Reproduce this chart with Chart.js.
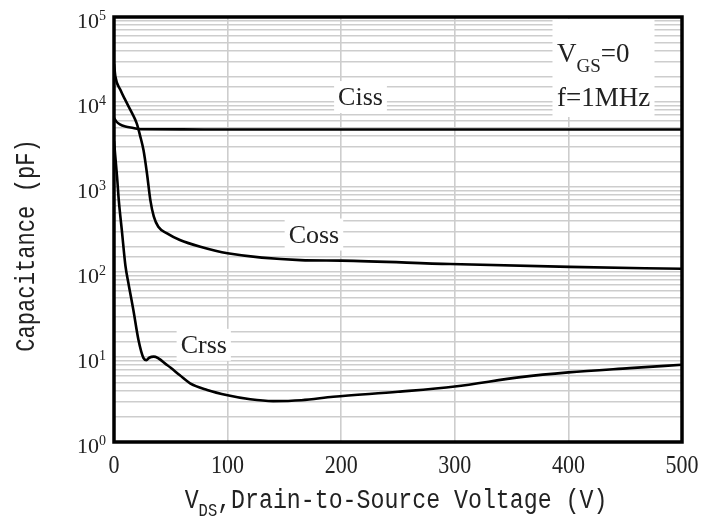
<!DOCTYPE html>
<html>
<head>
<meta charset="utf-8">
<script src="https://cdn.jsdelivr.net/npm/chart.js@4/dist/chart.umd.min.js"></script>
<style>
  body { margin: 0; background: #fff; }
  canvas { display: block; }
</style>
</head>
<body>
<canvas id="chart" width="719" height="520"></canvas>
<script>
// capacitance vs drain-source voltage

const cissV = [0, 2, 5.6, 10, 17, 23, 60, 100, 200, 300, 400, 500];
const cissC = [6500, 5900, 5400, 5150, 4950, 4780, 4760, 4750, 4750, 4750, 4750, 4750];

const cossV = [0, 1.2, 5.6, 10, 16, 20, 23, 26, 29, 32, 35, 39, 46.7, 58, 76, 100, 164, 200, 296, 401, 500];
const cossC = [28000, 20000, 13900, 10500, 7350, 5600, 4000, 2700, 1450, 700, 450, 340, 285, 238, 198, 166, 138, 136, 124, 115, 109];

const crssV = [0, 1, 2.7, 4.2, 7, 10, 13, 17, 21.5, 26, 28.5, 31, 35, 47, 58, 67, 82, 100, 120, 140, 165, 193, 250, 300, 358, 400, 454, 500];
const crssC = [3500, 2400, 1320, 700, 300, 120, 70, 36, 16, 9.7, 9.2, 9.8, 10.1, 8.0, 6.1, 4.9, 4.1, 3.55, 3.18, 3.03, 3.1, 3.4, 3.9, 4.5, 5.8, 6.6, 7.4, 8.1];

const xTicks = [0, 100, 200, 300, 400, 500];
const yDecades = [0, 1, 2, 3, 4, 5];

// curve names, placed in data coordinates
const curveLabels = [
    { text: "Ciss", v: 217, c: 9200 },
    { text: "Coss", v: 176, c: 222 },
    { text: "Crss", v: 79, c: 11.2 }
];

const monoFont = '"Liberation Mono", "DejaVu Sans Mono", monospace';
const serifFont = '"Liberation Serif", "DejaVu Serif", serif';
const textColor = "#222";

function toPoints(xs, ys) {
    return xs.map((x, i) => ({ x: x, y: ys[i] }));
}

// draws a run of text pieces (some raised / lowered), horizontally squeezed by sx
function drawRuns(ctx, runs, x, y, sx, align) {
    let total = 0;
    runs.forEach(r => {
        ctx.font = r.font;
        r.w = ctx.measureText(r.t).width * sx;
        total += r.w;
    });
    let cx = x;
    if (align === "center") cx = x - total / 2;
    if (align === "right") cx = x - total;
    runs.forEach(r => {
        ctx.save();
        ctx.font = r.font;
        ctx.translate(cx, y + (r.dy || 0));
        ctx.scale(sx, 1);
        ctx.textAlign = "left";
        ctx.textBaseline = "alphabetic";
        ctx.fillText(r.t, 0, 0);
        ctx.restore();
        cx += r.w;
    });
    return total;
}

const decorations = {
    id: "decorations",
    beforeDatasetsDraw(chart) {
        const ctx = chart.ctx;
        const xs = chart.scales.x;
        const ys = chart.scales.y;
        ctx.save();
        ctx.fillStyle = "#fff";
        // white boxes behind the curve names
        ctx.font = "26px " + serifFont;
        curveLabels.forEach(l => {
            const px = xs.getPixelForValue(l.v);
            const py = ys.getPixelForValue(l.c);
            const w = ctx.measureText(l.text).width;
            ctx.fillRect(px - w / 2 - 4, py - 24, w + 8, 32);
        });
        // box behind the test conditions
        const bx = xs.getPixelForValue(386);
        ctx.fillRect(bx, chart.chartArea.top + 2, 102, 98);
        ctx.restore();
    },
    afterDraw(chart) {
        const ctx = chart.ctx;
        const xs = chart.scales.x;
        const ys = chart.scales.y;
        const area = chart.chartArea;
        ctx.save();

        // frame
        ctx.strokeStyle = "#000";
        ctx.lineWidth = 3.5;
        ctx.strokeRect(area.left, area.top, area.right - area.left, area.bottom - area.top);

        ctx.fillStyle = textColor;

        // curve names
        curveLabels.forEach(l => {
            drawRuns(ctx, [{ t: l.text, font: "26px " + serifFont }],
                xs.getPixelForValue(l.v), ys.getPixelForValue(l.c), 1, "center");
        });

        // test conditions
        const cx = xs.getPixelForValue(390);
        drawRuns(ctx, [
            { t: "V", font: "27px " + serifFont },
            { t: "GS", font: "19px " + serifFont, dy: 10 },
            { t: "=0", font: "27px " + serifFont }
        ], cx, area.top + 45, 1, "left");
        drawRuns(ctx, [{ t: "f=1MHz", font: "27px " + serifFont }], cx, area.top + 89, 1, "left");

        // y tick labels 10^n
        yDecades.forEach(n => {
            const py = ys.getPixelForValue(Math.pow(10, n));
            const runs = [
                { t: "10", font: "22px " + serifFont },
                { t: String(n), font: "14px " + serifFont, dy: -8 }
            ];
            drawRuns(ctx, runs, area.left - 8, py + 11, 1, "right");
        });

        // x tick labels
        xTicks.forEach(v => {
            drawRuns(ctx, [{ t: String(v), font: "25px " + serifFont }],
                xs.getPixelForValue(v), area.bottom + 31, 0.88, "center");
        });

        // x title
        const mid = (area.left + area.right) / 2 - 2;
        drawRuns(ctx, [
            { t: "V", font: "27px " + monoFont },
            { t: "DS", font: "18px " + monoFont, dy: 8 },
            { t: ",Drain-to-Source Voltage (V)", font: "27px " + monoFont }
        ], mid, 508, 0.86, "center");

        // y title
        ctx.save();
        ctx.translate(34, (area.top + area.bottom) / 2 + 16);
        ctx.rotate(-Math.PI / 2);
        drawRuns(ctx, [{ t: "Capacitance (pF)", font: "27px " + monoFont }], 0, 0, 0.82, "center");
        ctx.restore();

        ctx.restore();
    }
};

function lineSet(xs, ys) {
    return {
        data: toPoints(xs, ys),
        borderColor: "#000",
        borderWidth: 2.6,
        pointRadius: 0,
        fill: false,
        cubicInterpolationMode: "monotone"
    };
}

const chart = new Chart(document.getElementById("chart").getContext("2d"), {
    type: "line",
    data: {
        datasets: [
            lineSet(cissV, cissC),
            lineSet(cossV, cossC),
            lineSet(crssV, crssC)
        ]
    },
    options: {
        responsive: false,
        animation: false,
        layout: { padding: { left: 114, right: 37, top: 17, bottom: 78 } },
        plugins: {
            legend: { display: false },
            tooltip: { enabled: false }
        },
        scales: {
            x: {
                type: "linear",
                min: 0,
                max: 500,
                ticks: { stepSize: 100, display: false },
                grid: { color: "#cdcdcd", lineWidth: 1.6, drawTicks: false },
                border: { display: false }
            },
            y: {
                type: "logarithmic",
                min: 1,
                max: 100000,
                ticks: { display: false, autoSkip: false },
                grid: { color: "#cdcdcd", lineWidth: 1.6, drawTicks: false },
                border: { display: false }
            }
        }
    },
    plugins: [decorations]
});
</script>
</body>
</html>
